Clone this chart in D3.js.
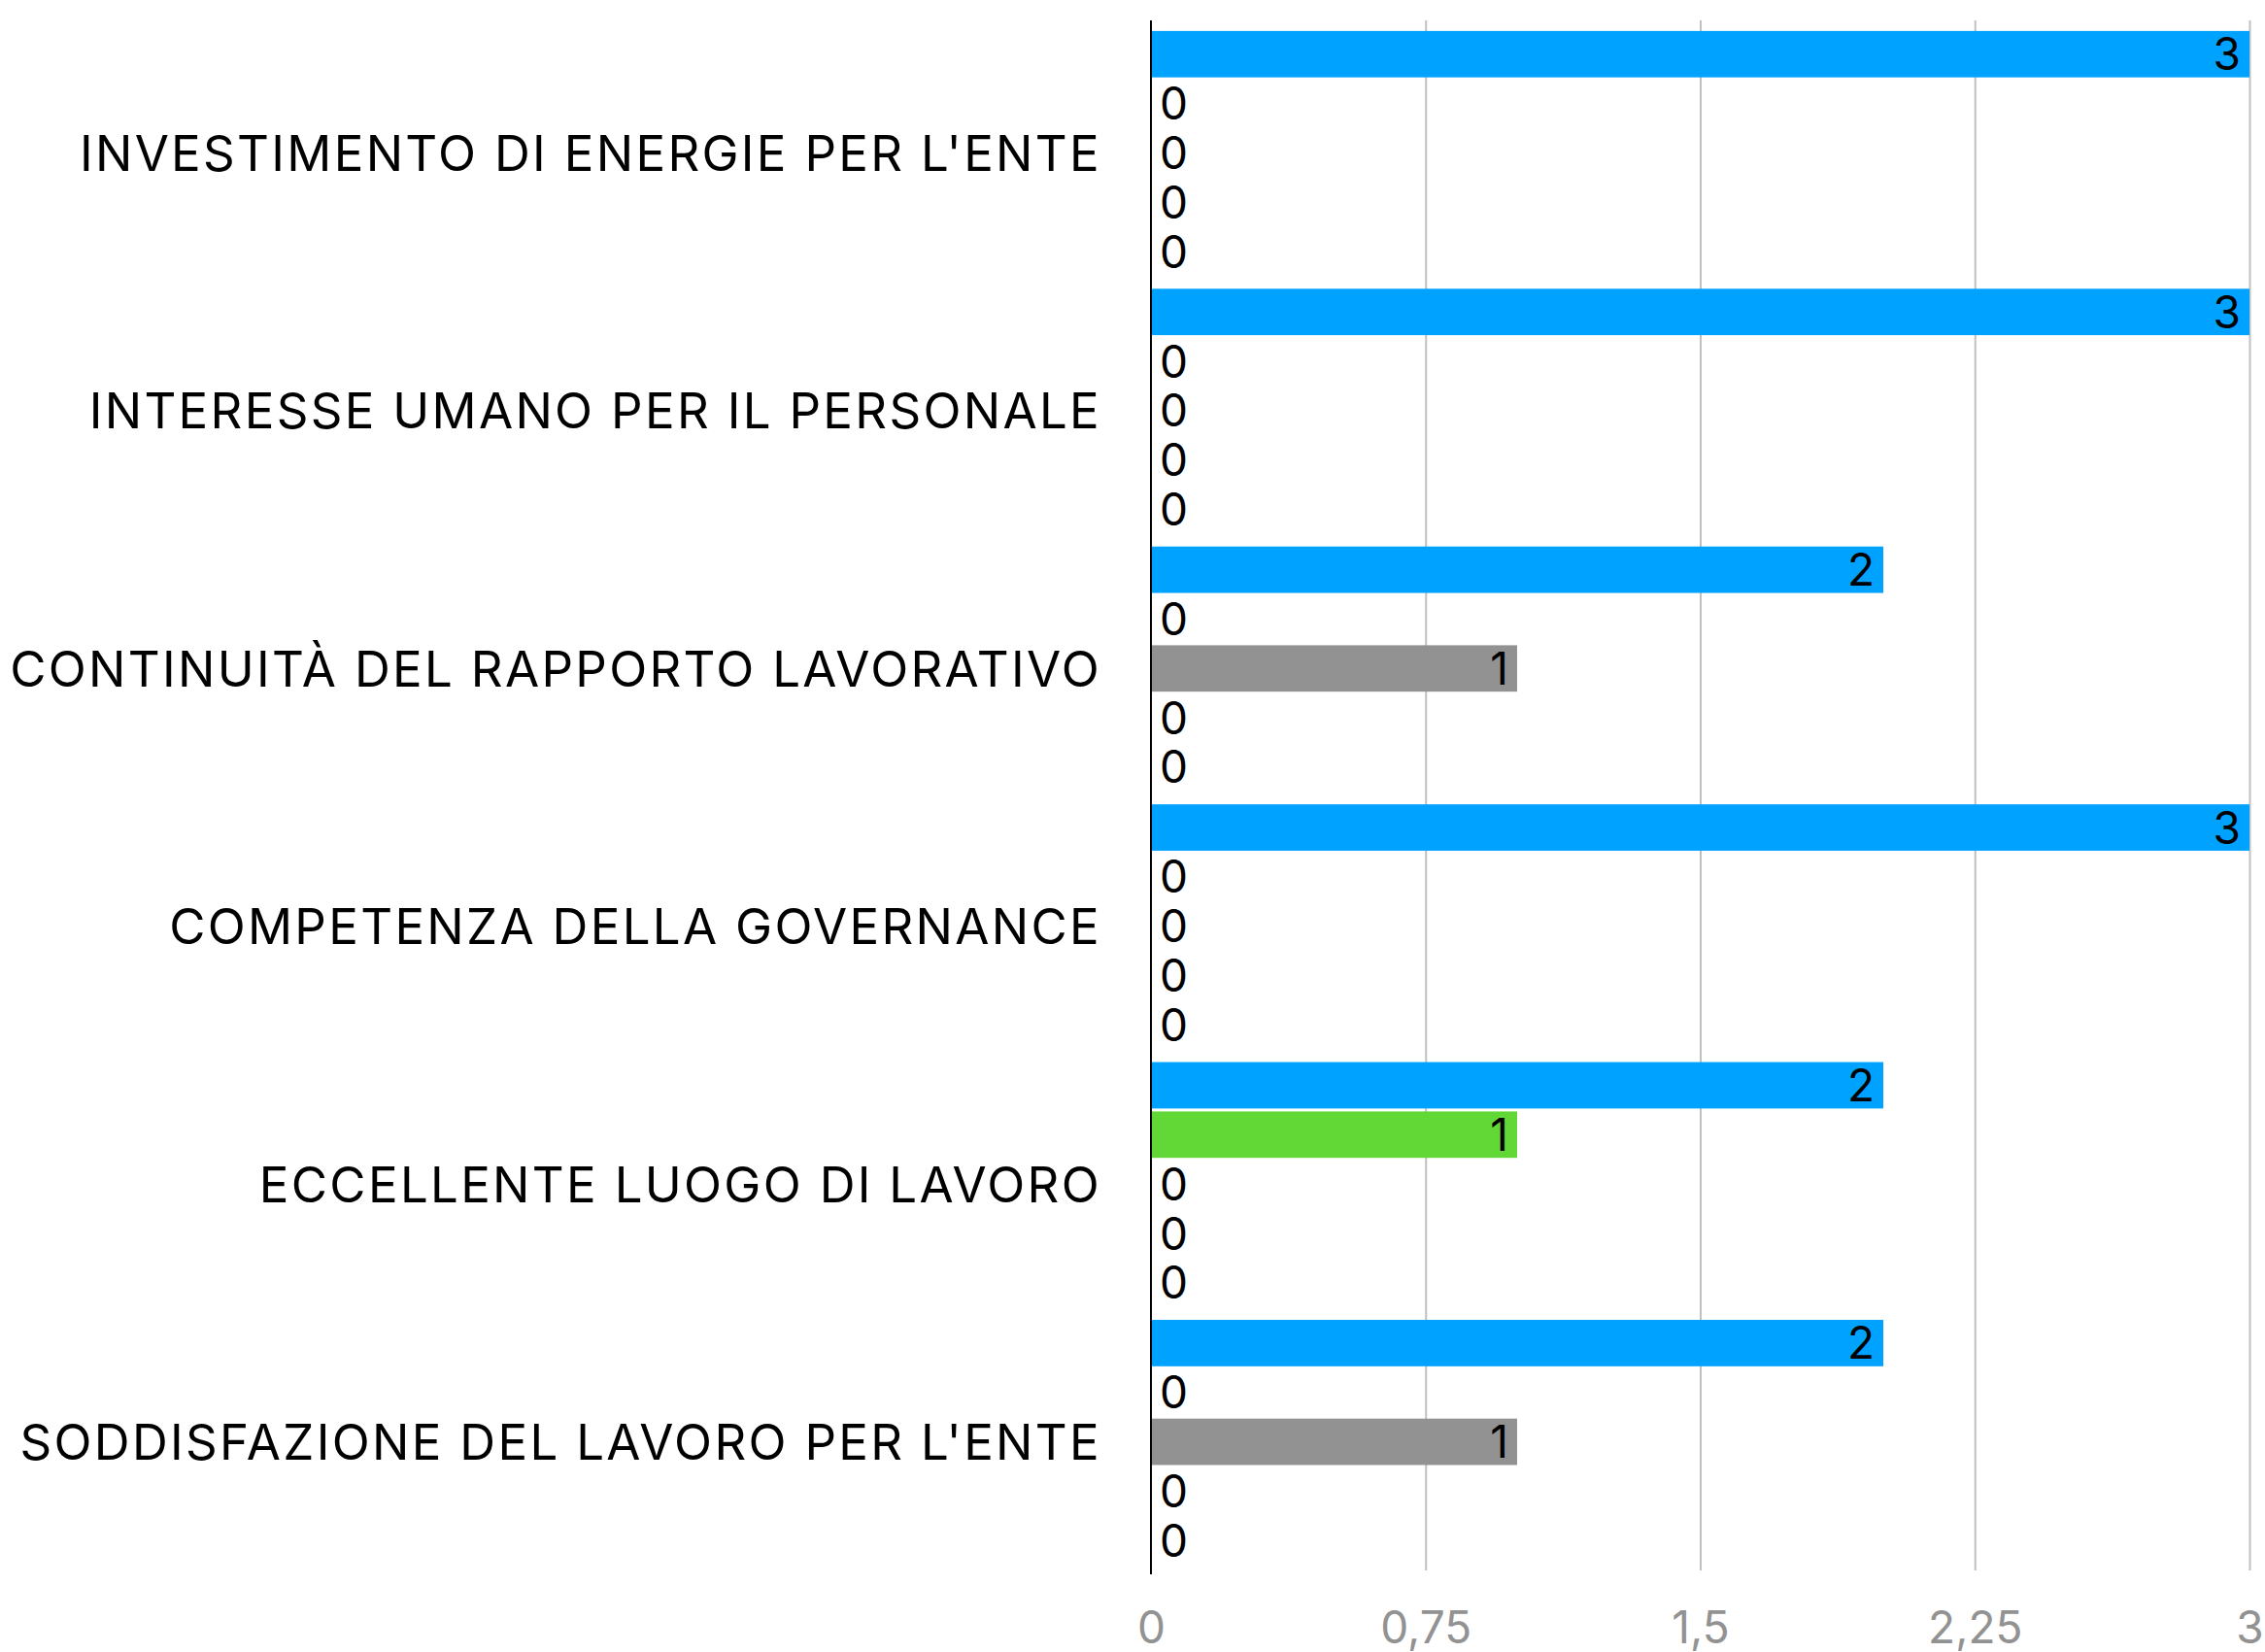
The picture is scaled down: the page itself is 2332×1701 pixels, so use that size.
<!DOCTYPE html>
<html>
<head>
<meta charset="utf-8">
<script src="https://cdn.jsdelivr.net/npm/d3@7"></script>
<style>
  body { margin: 0; background: #fff; }
  svg text { font-family: "Inter", "Noto Sans", sans-serif; }
</style>
</head>
<body>
<svg id="chart"></svg>
<script>
// categories, top to bottom
var categories = [
    "INVESTIMENTO DI ENERGIE PER L'ENTE",
    "INTERESSE UMANO PER IL PERSONALE",
    "CONTINUITÀ DEL RAPPORTO LAVORATIVO",
    "COMPETENZA DELLA GOVERNANCE",
    "ECCELLENTE LUOGO DI LAVORO",
    "SODDISFAZIONE DEL LAVORO PER L'ENTE"
];

// five series per category (one value per category)
var series1 = [3, 3, 2, 3, 2, 2];
var series2 = [0, 0, 0, 0, 1, 0];
var series3 = [0, 0, 1, 0, 0, 1];
var series4 = [0, 0, 0, 0, 0, 0];
var series5 = [0, 0, 0, 0, 0, 0];

var seriesNames = ["s1", "s2", "s3", "s4", "s5"];
var seriesColors = ["#00A2FF", "#61D836", "#929292", "#F8BA00", "#EE220C"];

var xTicks = [0, 0.75, 1.5, 2.25, 3];

var width = 2332, height = 1701;
var margin = {top: 21, right: 16, bottom: 80, left: 1185};

var svg = d3.select('#chart')
    .attr('width', width)
    .attr('height', height);

var allSeries = [series1, series2, series3, series4, series5];
var rows = categories.map(function (c, i) {
    return {
        cat: c,
        values: allSeries.map(function (s, j) {
            return {key: seriesNames[j], value: s[i], color: seriesColors[j]};
        })
    };
});

var x = d3.scaleLinear()
    .domain([0, 3])
    .range([margin.left, 2316]);

var y0 = d3.scaleBand()
    .domain(categories)
    .range([margin.top, 1621])
    .paddingInner(0.054)
    .paddingOuter(0.041);

var y1 = d3.scaleBand()
    .domain(seriesNames)
    .range([0, y0.bandwidth()])
    .paddingInner(0.06)
    .paddingOuter(0);

var itLocale = d3.formatLocale({decimal: ",", thousands: ".", grouping: [3], currency: ["", "€"]});
var fmt = itLocale.format("~g");

// vertical gridlines
var grid = svg.append('g')
    .attr('class', 'grid')
    .attr('transform', 'translate(0,' + 1617 + ')')
    .call(d3.axisBottom(x).tickValues(xTicks.slice(1)).tickSize(-(1617 - margin.top)).tickFormat(''));
grid.select('.domain').remove();
grid.selectAll('line').attr('stroke', '#c0c0c0').attr('stroke-width', 2);

// x axis tick labels
var xAxis = svg.append('g')
    .attr('transform', 'translate(0,' + 1621 + ')')
    .call(d3.axisBottom(x).tickValues(xTicks).tickSize(0).tickPadding(38).tickFormat(fmt));
xAxis.select('.domain').remove();
xAxis.selectAll('text')
    .attr('fill', '#929292')
    .style('font-size', '46px');

// bars
var groups = svg.selectAll('.group')
    .data(rows)
    .enter()
    .append('g')
    .attr('class', 'group')
    .attr('transform', function (d) { return 'translate(0,' + y0(d.cat) + ')'; });

groups.selectAll('rect')
    .data(function (d) { return d.values.filter(function (v) { return v.value > 0; }); })
    .enter()
    .append('rect')
    .attr('x', x(0))
    .attr('y', function (d) { return y1(d.key); })
    .attr('width', function (d) { return x(d.value) - x(0); })
    .attr('height', y1.bandwidth())
    .attr('fill', function (d) { return d.color; });

// value labels
groups.selectAll('.value')
    .data(function (d) { return d.values; })
    .enter()
    .append('text')
    .attr('class', 'value')
    .attr('x', function (d) { return d.value > 0 ? x(d.value) - 9 : x(0) + 9; })
    .attr('y', function (d) { return y1(d.key) + y1.bandwidth() / 2; })
    .attr('dy', '0.36em')
    .attr('text-anchor', function (d) { return d.value > 0 ? 'end' : 'start'; })
    .style('font-size', '46px')
    .attr('fill', '#000')
    .text(function (d) { return fmt(d.value); });

// category labels
svg.selectAll('.cat')
    .data(categories)
    .enter()
    .append('text')
    .attr('class', 'cat')
    .attr('x', 1134)
    .attr('y', function (d) { return y0(d) + y0.bandwidth() / 2; })
    .attr('dy', '0.36em')
    .attr('text-anchor', 'end')
    .style('font-size', '51px')
    .style('letter-spacing', '2.3px')
    .attr('fill', '#000')
    .text(function (d) { return d; });

// y axis line
svg.append('line')
    .attr('x1', x(0)).attr('x2', x(0))
    .attr('y1', margin.top).attr('y2', 1621)
    .attr('stroke', '#000')
    .attr('stroke-width', 2);
</script>
</body>
</html>
